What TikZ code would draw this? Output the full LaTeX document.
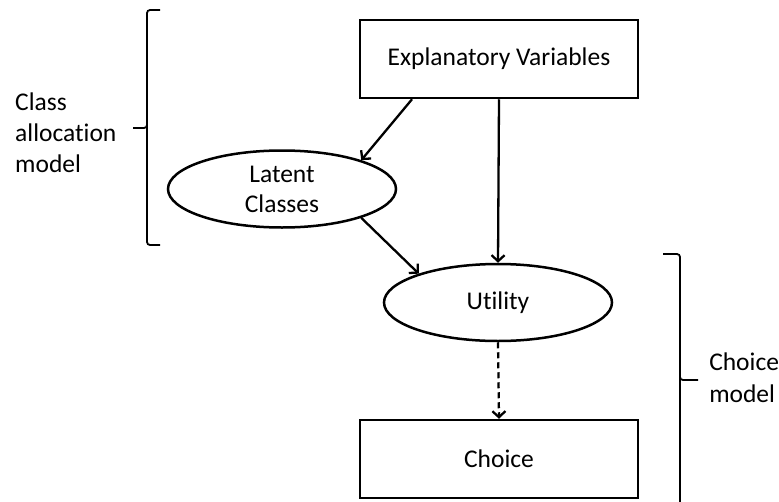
\documentclass[tikz,border=0pt]{standalone}
\usepackage{fontspec}
\setmainfont{Carlito}[Ligatures={NoCommon}]
\usetikzlibrary{shapes.geometric,arrows.meta,calc}
\begin{document}
\begin{tikzpicture}[x=1pt,y=-1pt,
  line width=2.5pt,
  every node/.style={font=\fontsize{25.5}{31}\selectfont, inner sep=0pt},
  boxnode/.style={draw, minimum width=278pt, minimum height=78pt},
  ellnode/.style={draw, ellipse, minimum width=228pt, minimum height=77pt, align=center},
  arr/.style={-{Straight Barb[length=6pt,width=13pt,line width=2.3pt]}},
  brace/.style={line width=1.8pt, rounded corners=3pt},
  lbl/.style={align=left, anchor=base west}
]
\useasboundingbox (0,0) rectangle (779,501);
\node[boxnode] (ev) at (499,59) {Explanatory Variables};
\node[ellnode, font=\fontsize{25.5}{30}\selectfont] (lc) at (282,189) {Latent\\Classes};
\node[ellnode] (ut) at (498,302.5) {Utility};
\node[boxnode] (ch) at (499,459) {Choice};

\draw[arr, line width=2.3pt] ($(ev.south)+(-87,0)$) -- (lc.20);
\draw[arr, line width=2.3pt] (ev.south) -- (ut.north);
\draw[arr, line width=2.3pt] (lc.-20) -- (ut.160);
\draw[arr, line width=2.3pt, dashed, dash pattern=on 6pt off 4pt] (ut.south) -- (ch.north);

% left brace
\coordinate (lbtop) at (160,10);
\coordinate (lbbot) at (160,245);
\coordinate (lbtip) at (133,128);
\draw[brace] (lbtop) -- (147,10) -- (147,128) -- (lbtip);
\draw[brace] (147,125) -- (147,245) -- (lbbot);
% right brace
\coordinate (rbtop) at (663,254);
\coordinate (rbtip) at (698,380);
\coordinate (rbbot) at (680,503);
\draw[brace] (rbtop) -- (680,254) -- (680,380) -- (rbtip);
\draw[brace] (680,377) -- (rbbot);

\node[lbl] (cam) at (14,172) {Class\\allocation\\model};
\node[lbl, font=\fontsize{25.5}{32}\selectfont] (cm) at (708,402) {Choice\\model};
\end{tikzpicture}
\end{document}
